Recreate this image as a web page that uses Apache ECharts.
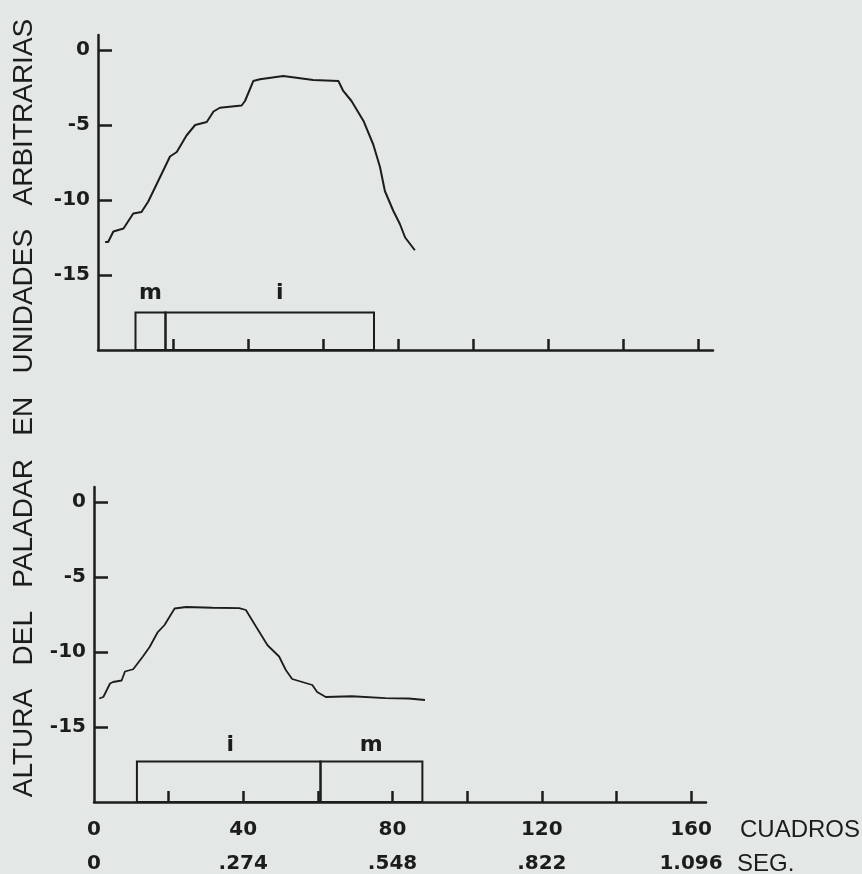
<!DOCTYPE html>
<html>
<head>
<meta charset="utf-8">
<script src="https://cdn.jsdelivr.net/npm/echarts@6/dist/echarts.min.js"></script>
<style>
html,body{margin:0;padding:0;background:#e3e7e5;}
#chart{width:862px;height:874px;}
</style>
</head>
<body>
<div id="chart"></div>
<script>
// ---- Data ----
const topFrames = [1.9, 2.7, 4.1, 6.8, 9.4, 11.6, 13.4, 16.5, 19.2, 21.0, 23.6, 25.9, 29.0, 30.8, 32.5, 38.3, 39.2, 41.4, 43.2, 49.4, 57.4, 64.1, 65.4, 67.6, 70.8, 73.4, 75.2, 76.5, 78.7, 80.5, 81.9, 84.5];
const topValues = [-12.8, -12.8, -12.1, -11.9, -10.9, -10.8, -10.1, -8.5, -7.1, -6.8, -5.7, -5.0, -4.8, -4.1, -3.85, -3.7, -3.4, -2.07, -1.95, -1.73, -2.0, -2.07, -2.73, -3.4, -4.73, -6.3, -7.8, -9.4, -10.7, -11.6, -12.5, -13.35];

const botFrames = [1.4, 2.5, 4.3, 5.1, 7.4, 8.3, 10.5, 13.1, 14.9, 17.1, 18.9, 21.6, 24.7, 31.8, 38.9, 40.7, 43.4, 46.5, 49.6, 51.4, 53.1, 58.5, 59.8, 62.1, 69.1, 78.1, 84.3, 88.7];
const botValues = [-13.1, -13.0, -12.1, -12.0, -11.9, -11.3, -11.15, -10.3, -9.67, -8.67, -8.2, -7.1, -7.0, -7.05, -7.07, -7.2, -8.3, -9.55, -10.3, -11.2, -11.8, -12.2, -12.67, -13.0, -12.95, -13.07, -13.1, -13.2];

// segment boxes: [start frame, end frame, top value]
const topBoxStarts = [10, 18];
const topBoxEnds = [18, 73.6];
const topBoxTop = -17.5;
const topBoxNames = ['m', 'i'];
const topLabelFrames = [14, 48.5];

const botBoxStarts = [11.5, 60.7];
const botBoxEnds = [60.7, 88];
const botBoxTop = -17.3;
const botBoxNames = ['i', 'm'];
const botLabelFrames = [36.5, 74.3];

const labelValue = -16.2;

const yTickValues = [-15, -10, -5, 0];
const xTickValues = [20, 40, 60, 80, 100, 120, 140, 160];
const xLabelValues = [0, 40, 80, 120, 160];
const frameLabels = ['0', '40', '80', '120', '160'];
const secondLabels = ['0', '.274', '.548', '.822', '1.096'];

const yAxisWords = ['ALTURA', 'DEL', 'PALADAR', 'EN', 'UNIDADES', 'ARBITRARIAS'];
const unitFrames = 'CUADROS';
const unitSeconds = 'SEG.';

// ---- Chart ----
const ink = '#1c1c1c';
const chart = echarts.init(document.getElementById('chart'), null, {renderer: 'canvas'});

function pairs(xs, ys) { return xs.map((x, i) => [x, ys[i]]); }

function boxData(starts, ends, top) { return starts.map((s, i) => [s, ends[i], top]); }

function labelData(xs, names) { return xs.map((x, i) => [x, labelValue, names[i]]); }

function renderBox(params, api) {
  const p0 = api.coord([api.value(0), -20]);
  const p1 = api.coord([api.value(1), api.value(2)]);
  return {
    type: 'rect',
    shape: {x: p0[0], y: p1[1], width: p1[0] - p0[0], height: p0[1] - p1[1]},
    style: {fill: 'none', stroke: ink, lineWidth: 2}
  };
}

function renderLabel(params, api) {
  const p = api.coord([api.value(0), api.value(1)]);
  return {
    type: 'text',
    style: {
      text: api.value(2), x: p[0], y: p[1], align: 'center', verticalAlign: 'middle',
      fontFamily: 'DejaVu Sans', fontWeight: 'bold', fontSize: 22, fill: ink
    }
  };
}

function xAxisCfg(gridIndex, showLabels) {
  return {
    type: 'value', gridIndex: gridIndex, min: 0, max: 164,
    splitLine: {show: false},
    axisLine: {show: true, onZero: false, lineStyle: {color: ink, width: 2.5}},
    axisTick: {show: true, inside: true, length: 11, customValues: xTickValues, lineStyle: {color: ink, width: 2.5}},
    axisLabel: {
      show: showLabels, customValues: xLabelValues, margin: 11,
      fontFamily: 'DejaVu Sans', fontWeight: 'bold', fontSize: 20, color: ink, lineHeight: 34,
      formatter: function (v) {
        const i = xLabelValues.indexOf(v);
        if (i < 0) return '';
        return '{a|' + frameLabels[i] + '}\n{b|' + secondLabels[i] + '}';
      },
      rich: {
        a: {fontFamily: 'DejaVu Sans', fontWeight: 'bold', fontSize: 20, color: ink, lineHeight: 34, align: 'center'},
        b: {fontFamily: 'DejaVu Sans', fontWeight: 'bold', fontSize: 20, color: ink, lineHeight: 34, align: 'center'}
      }
    }
  };
}

function yAxisCfg(gridIndex) {
  return {
    type: 'value', gridIndex: gridIndex, min: -20, max: 1,
    splitLine: {show: false},
    axisLine: {show: true, onZero: false, lineStyle: {color: ink, width: 2.5}},
    axisTick: {show: true, inside: true, length: 14, customValues: yTickValues, lineStyle: {color: ink, width: 2.5}},
    axisLabel: {
      show: true, customValues: yTickValues, margin: 8,
      fontFamily: 'DejaVu Sans', fontWeight: 'bold', fontSize: 20, color: ink,
      formatter: function (v) { return String(v); }
    }
  };
}

const option = {
  backgroundColor: '#e3e7e5',
  animation: false,
  grid: [
    {left: 98, top: 35, width: 615, height: 315, outerBoundsMode: 'none', containLabel: false},
    {left: 94, top: 487, width: 612, height: 315, outerBoundsMode: 'none', containLabel: false}
  ],
  xAxis: [xAxisCfg(0, false), xAxisCfg(1, true)],
  yAxis: [yAxisCfg(0), yAxisCfg(1)],
  series: [
    {type: 'line', xAxisIndex: 0, yAxisIndex: 0, data: pairs(topFrames, topValues), showSymbol: false, symbol: 'none',
     lineStyle: {color: ink, width: 2}, smooth: false},
    {type: 'line', xAxisIndex: 1, yAxisIndex: 1, data: pairs(botFrames, botValues), showSymbol: false, symbol: 'none',
     lineStyle: {color: ink, width: 1.8}, smooth: false},
    {type: 'custom', xAxisIndex: 0, yAxisIndex: 0, data: boxData(topBoxStarts, topBoxEnds, topBoxTop), renderItem: renderBox, clip: false},
    {type: 'custom', xAxisIndex: 1, yAxisIndex: 1, data: boxData(botBoxStarts, botBoxEnds, botBoxTop), renderItem: renderBox, clip: false},
    {type: 'custom', xAxisIndex: 0, yAxisIndex: 0, data: labelData(topLabelFrames, topBoxNames), renderItem: renderLabel, clip: false},
    {type: 'custom', xAxisIndex: 1, yAxisIndex: 1, data: labelData(botLabelFrames, botBoxNames), renderItem: renderLabel, clip: false}
  ],
  graphic: [
    {type: 'text', x: 24, y: 408, rotation: Math.PI / 2,
     style: {text: yAxisWords.join('   '), fontFamily: 'Liberation Sans', fontSize: 28, fill: ink, align: 'center', verticalAlign: 'middle'}},
    {type: 'text', x: 740, y: 830,
     style: {text: unitFrames, fontFamily: 'Liberation Sans', fontSize: 24, fill: ink, align: 'left', verticalAlign: 'middle'}},
    {type: 'text', x: 737, y: 864,
     style: {text: unitSeconds, fontFamily: 'Liberation Sans', fontSize: 24, fill: ink, align: 'left', verticalAlign: 'middle'}}
  ]
};
chart.setOption(option);
</script>
</body>
</html>
